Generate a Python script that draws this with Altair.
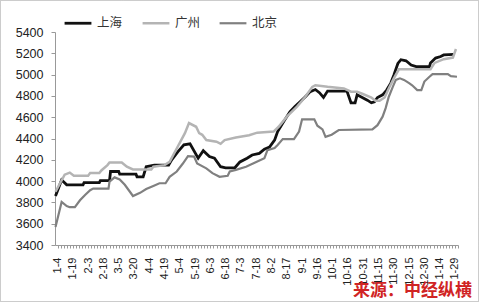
import altair as alt
import pandas as pd

x_labels = ["1-4", "1-19", "2-3", "2-18", "3-5", "3-20", "4-4", "4-19", "5-4", "5-19",
            "6-3", "6-18", "7-3", "7-18", "8-2", "8-17", "9-1", "9-16", "10-1", "10-16",
            "10-31", "11-15", "11-30", "12-15", "12-30", "1-14", "1-29"]
y_ticks = [3400, 3600, 3800, 4000, 4200, 4400, 4600, 4800, 5000, 5200, 5400]
cities = ["上海", "广州", "北京"]

# days counted from 1-4
sh_day = [-2, 4, 9, 25, 26, 41, 42, 51, 52, 60, 61, 77, 78, 84, 87, 95, 109, 112, 118, 124,
          130, 138, 143, 149, 154, 160, 165, 174, 179, 186, 191, 198, 203, 208, 213, 216, 223, 228, 233, 238,
          243, 248, 253, 257, 261, 265, 284, 288, 292, 294, 299, 304, 308, 311, 314, 319, 323, 327, 330, 334,
          337, 342, 347, 352, 365, 366, 371, 376, 379, 389]
sh_val = [3860, 4010, 3965, 3965, 3985, 3985, 4005, 4005, 4090, 4090, 4065, 4065, 4040, 4040, 4135, 4150, 4150, 4200, 4275, 4340,
          4350, 4215, 4285, 4230, 4215, 4135, 4125, 4125, 4180, 4215, 4245, 4260, 4300, 4320, 4385, 4465, 4575, 4650, 4700, 4745,
          4790, 4840, 4860, 4830, 4785, 4845, 4845, 4735, 4735, 4810, 4785, 4760, 4735, 4745, 4785, 4810, 4855, 4920, 4995, 5105,
          5140, 5130, 5090, 5075, 5075, 5110, 5155, 5170, 5185, 5190]

gz_day = [-2, 7, 12, 16, 30, 32, 41, 43, 49, 51, 63, 68, 74, 92, 94, 105, 110, 118, 125, 129,
          136, 139, 142, 146, 156, 160, 164, 175, 188, 196, 212, 217, 225, 235, 243, 250, 253, 265, 281, 288,
          294, 299, 308, 312, 316, 321, 325, 330, 335, 366, 370, 379, 388, 391]
gz_val = [3900, 4060, 4080, 4050, 4050, 4075, 4075, 4100, 4150, 4175, 4175, 4135, 4110, 4110, 4135, 4150, 4180, 4325, 4450, 4545,
          4510, 4450, 4435, 4385, 4370, 4350, 4385, 4410, 4430, 4455, 4465, 4510, 4605, 4700, 4790, 4885, 4900, 4885, 4870, 4840,
          4840, 4820, 4785, 4755, 4755, 4785, 4870, 4965, 5050, 5050, 5110, 5145, 5160, 5240]

bj_day = [-2, 4, 9, 12, 17, 22, 27, 32, 35, 50, 51, 56, 61, 66, 71, 74, 81, 87, 94, 100,
          106, 110, 117, 123, 128, 134, 137, 146, 152, 159, 167, 169, 175, 185, 195, 203, 206, 213, 216, 221,
          232, 237, 240, 252, 255, 260, 263, 269, 276, 309, 314, 319, 322, 325, 329, 332, 336, 340, 345, 348,
          353, 357, 360, 365, 368, 383, 386, 392]
bj_val = [3570, 3805, 3765, 3755, 3755, 3820, 3870, 3915, 3930, 3930, 3995, 4035, 4015, 3965, 3900, 3860, 3890, 3925, 3955, 3980,
          3980, 4040, 4090, 4165, 4235, 4230, 4165, 4120, 4075, 4040, 4050, 4090, 4105, 4135, 4180, 4215, 4290, 4310, 4340, 4395,
          4395, 4465, 4580, 4580, 4520, 4485, 4415, 4435, 4480, 4485, 4525, 4605, 4685, 4790, 4885, 4950, 4965, 4950, 4920, 4900,
          4855, 4855, 4935, 4980, 5005, 5005, 4985, 4980]

rows = []
for city, days, vals in zip(cities, [sh_day, gz_day, bj_day], [sh_val, gz_val, bj_val]):
    for d, v in zip(days, vals):
        rows.append({"city": city, "day": d, "price": v})
df = pd.DataFrame(rows)

W, H = 403, 213
label_js = "[" + ",".join(f"'{s}'" for s in x_labels) + "]"

x_axis = alt.Axis(
    values=list(range(0, 394, 3)),
    labelExpr=f"datum.value % 15 == 0 ? {label_js}[datum.value / 15] : ''",
    labelAngle=-90, labelOverlap=False, labelBound=False, labelFlush=False,
    tickSize=3, tickColor="#999999", domainColor="#999999",
    labelFont="Liberation Sans", labelFontSize=11, labelColor="#222222",
    labelPadding=9, title=None, grid=False,
)
y_axis = alt.Axis(
    values=y_ticks, format="d", tickSize=4, tickColor="#999999", domainColor="#999999",
    labelFont="Liberation Sans", labelFontSize=12.5, labelColor="#222222",
    labelPadding=8, title=None, grid=False,
)

lines = alt.Chart(df).mark_line(interpolate="linear").encode(
    x=alt.X("day:Q", scale=alt.Scale(domain=[-2.5, 393], nice=False, zero=False), axis=x_axis),
    y=alt.Y("price:Q", scale=alt.Scale(domain=[3400, 5400], nice=False, zero=False), axis=y_axis),
    color=alt.Color("city:N", scale=alt.Scale(domain=cities, range=["#111111", "#b4b4b4", "#808080"]),
                    legend=alt.Legend(
                        title=None, orient="none", direction="horizontal", legendX=8, legendY=-24,
                        symbolType="stroke", symbolSize=720, symbolStrokeWidth=2.5,
                        labelFont="Noto Sans CJK SC", labelFontSize=12.5, labelColor="#333333",
                        labelOffset=4, columnPadding=14,
                    )),
    strokeWidth=alt.StrokeWidth("city:N", scale=alt.Scale(domain=cities, range=[2.8, 2.2, 2.2]), legend=None),
    detail="city:N",
)

note = alt.Chart(pd.DataFrame({"t": ["来源：中经纵横"]})).mark_text(
    align="right", baseline="alphabetic", font="Noto Sans CJK SC", fontSize=17,
    fontWeight="bold", color="#d02424",
).encode(text="t:N", x=alt.value(417), y=alt.value(264))

border = alt.Chart(pd.DataFrame({"a": [1]})).mark_rect(
    fill=None, stroke="#999999", strokeWidth=1, strokeDash=[1, 1],
).encode(x=alt.value(-54.5), x2=alt.value(W + 20.5), y=alt.value(-31.5), y2=alt.value(H + 56.5))

chart = alt.layer(lines, note, border).properties(
    width=W, height=H,
    autosize=alt.AutoSizeParams(type="none"),
    padding={"left": 55, "top": 32, "right": 21, "bottom": 57},
    background="white",
).configure_view(stroke=None)

chart.save("out.html", embed_options={"renderer": "svg", "actions": False})
